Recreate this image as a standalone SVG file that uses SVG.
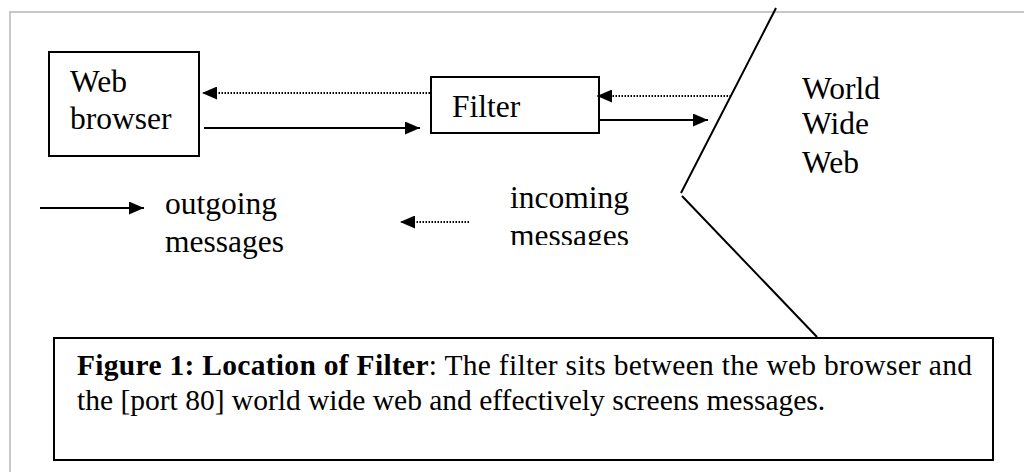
<svg xmlns="http://www.w3.org/2000/svg" width="1024" height="472" viewBox="0 0 1024 472">
<style>
.t{font-family:"Liberation Serif","Times New Roman",serif;font-size:31.5px;fill:#000}
.c{font-family:"Liberation Serif","Times New Roman",serif;font-size:29.5px;fill:#000}
.box{fill:#fff;stroke:#000;stroke-width:2}
.solid{stroke:#000;stroke-width:2;fill:none}
.dot{stroke:#000;stroke-width:1.8;stroke-dasharray:1.5 1.5;fill:none}
</style>
<defs>
<marker id="ah" viewBox="0 0 15 13" refX="15" refY="6.5" markerWidth="15" markerHeight="13" markerUnits="userSpaceOnUse" orient="auto">
<path d="M0,0 L15,6.5 L0,13 Z" fill="#000"/>
</marker>
<clipPath id="clipInc"><rect x="490" y="180" width="200" height="65"/></clipPath>
</defs>
<rect width="1024" height="472" fill="#fff"/>
<path d="M10,472 V12 H1024" stroke="#c8c8c8" stroke-width="2" fill="none"/>

<g id="browser">
<rect class="box" x="49" y="52" width="150" height="104"/>
<text class="t" x="70" y="92">Web</text>
<text class="t" x="70" y="129">browser</text>
</g>

<g id="filter">
<rect class="box" x="431" y="77" width="168" height="56"/>
<text class="t" x="452" y="117">Filter</text>
</g>

<g id="www">
<path class="solid" d="M776,8 L681,193 M682,196 L817,337"/>
<text class="t" x="802" y="99">World</text>
<text class="t" x="802" y="134">Wide</text>
<text class="t" x="802" y="173">Web</text>
</g>

<g id="legend">
<text class="t" x="165" y="214">outgoing</text>
<text class="t" x="165" y="252">messages</text>
<g clip-path="url(#clipInc)">
<text class="t" x="510" y="208">incoming</text>
<text class="t" x="510" y="246">messages</text>
</g>
</g>

<g id="caption">
<rect class="box" x="54" y="338" width="939" height="122"/>
<text class="c" x="77" y="375" textLength="895" lengthAdjust="spacing"><tspan font-weight="bold">Figure 1: Location of Filter</tspan>: The filter sits between the web browser and</text>
<text class="c" x="77" y="410">the [port 80] world wide web and effectively screens messages.</text>
</g>

<g id="connectors">
<line class="dot" x1="430" y1="93" x2="202" y2="93" marker-end="url(#ah)"/>
<line class="solid" x1="204" y1="128" x2="420" y2="128" marker-end="url(#ah)"/>
<line class="dot" x1="731" y1="96" x2="597" y2="96" marker-end="url(#ah)"/>
<line class="solid" x1="599" y1="120" x2="708" y2="120" marker-end="url(#ah)"/>
<line class="solid" x1="40" y1="208" x2="144" y2="208" marker-end="url(#ah)"/>
<line class="dot" x1="469" y1="222" x2="400" y2="222" marker-end="url(#ah)"/>
</g>
</svg>
